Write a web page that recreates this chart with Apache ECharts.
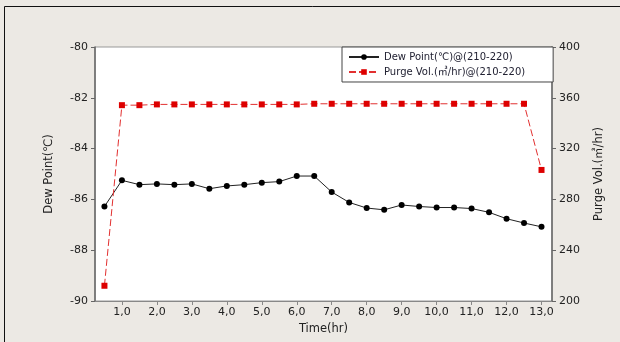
<!DOCTYPE html>
<html>
<head>
<meta charset="utf-8">
<script src="https://cdn.jsdelivr.net/npm/echarts@6/dist/echarts.min.js"></script>
<style>
  html, body { margin: 0; padding: 0; background: #ECE9E4; }
  #chart { width: 620px; height: 342px; }
</style>
</head>
<body>
<div id="chart"></div>
<script>
// Sampling times (hr)
const times = [0.5, 1.0, 1.5, 2.0, 2.5, 3.0, 3.5, 4.0, 4.5, 5.0, 5.5, 6.0, 6.5,
               7.0, 7.5, 8.0, 8.5, 9.0, 9.5, 10.0, 10.5, 11.0, 11.5, 12.0, 12.5, 13.0];
// Dew point (°C)
const dewPoint = [-86.28, -85.25, -85.42, -85.39, -85.42, -85.39, -85.58, -85.47, -85.42,
                  -85.34, -85.30, -85.08, -85.08, -85.71, -86.12, -86.34, -86.41, -86.22,
                  -86.28, -86.32, -86.32, -86.36, -86.51, -86.76, -86.93, -87.08];
// Purge volume (m3/hr)
const purgeVol = [212, 354.2, 354.2, 354.8, 354.8, 354.8, 354.8, 354.8, 354.8, 354.8,
                  354.8, 354.8, 355.3, 355.3, 355.3, 355.3, 355.3, 355.3, 355.3, 355.3,
                  355.3, 355.3, 355.3, 355.3, 355.3, 303.2];
// Tick labels
const timeTicks = [1, 2, 3, 4, 5, 6, 7, 8, 9, 10, 11, 12, 13];

const seriesNames = ['Dew Point(℃)@(210-220)', 'Purge Vol.(㎥/hr)@(210-220)'];

const font = 'DejaVu Sans, Liberation Sans, Noto Sans CJK KR, sans-serif';
const txt = { color: '#222', fontFamily: font, fontSize: 11 };

const chart = echarts.init(document.getElementById('chart'));
chart.setOption({
  backgroundColor: '#ECE9E4',
  animation: false,
  grid: {
    left: 95, right: 68, top: 47, bottom: 41,
    show: true, backgroundColor: '#ffffff', borderColor: '#999', borderWidth: 1
  },
  legend: {
    orient: 'vertical',
    left: 342, top: 47,
    backgroundColor: '#ffffff',
    borderColor: '#444', borderWidth: 1,
    padding: [5, 28, 5, 6],
    itemWidth: 30, itemHeight: 7, itemGap: 5,
    textStyle: { color: '#223', fontFamily: font, fontSize: 10 },
    data: seriesNames
  },
  xAxis: {
    type: 'value',
    min: 0.23, max: 13.3,
    name: 'Time(hr)', nameLocation: 'middle', nameGap: 22,
    nameTextStyle: Object.assign({}, txt, { fontSize: 11.5 }),
    axisLine: { show: true, lineStyle: { color: '#888' } },
    axisTick: { show: true, length: 4, customValues: timeTicks, lineStyle: { color: '#888' } },
    axisLabel: Object.assign({}, txt, {
      margin: 6,
      customValues: timeTicks,
      formatter: v => v.toFixed(1).replace('.', ',')
    }),
    splitLine: { show: false }
  },
  yAxis: [
    {
      type: 'value', min: -90, max: -80, interval: 2,
      name: 'Dew Point(℃)', nameLocation: 'middle', nameGap: 40, nameRotate: 90,
      nameTextStyle: Object.assign({}, txt, { fontSize: 11.5 }),
      axisLine: { show: true, lineStyle: { color: '#666', width: 1.5 } },
      axisTick: { show: true, length: 4, lineStyle: { color: '#666' } },
      axisLabel: Object.assign({}, txt, { margin: 7 }),
      splitLine: { show: false }
    },
    {
      type: 'value', min: 200, max: 400, interval: 40,
      name: 'Purge Vol.(㎥/hr)', nameLocation: 'middle', nameGap: 41, nameRotate: 90,
      nameTextStyle: Object.assign({}, txt, { fontSize: 11.5 }),
      axisLine: { show: true, lineStyle: { color: '#666', width: 1.5 } },
      axisTick: { show: true, length: 4, lineStyle: { color: '#666' } },
      axisLabel: Object.assign({}, txt, { margin: 7 }),
      splitLine: { show: false }
    }
  ],
  graphic: [
    { type: 'line', shape: { x1: 4.5, y1: 6.5, x2: 620, y2: 6.5 }, style: { stroke: '#111', lineWidth: 1 }, silent: true },
    { type: 'line', shape: { x1: 4.5, y1: 6.5, x2: 4.5, y2: 342 }, style: { stroke: '#111', lineWidth: 1 }, silent: true }
  ],
  series: [
    {
      name: seriesNames[0],
      type: 'line',
      yAxisIndex: 0,
      data: times.map((t, i) => [t, dewPoint[i]]),
      symbol: 'circle', symbolSize: 6,
      itemStyle: { color: '#000' },
      lineStyle: { color: '#222', width: 1 }
    },
    {
      name: seriesNames[1],
      type: 'line',
      yAxisIndex: 1,
      data: times.map((t, i) => [t, purgeVol[i]]),
      symbol: 'rect', symbolSize: 6,
      itemStyle: { color: '#dd0000' },
      lineStyle: { color: '#e23030', width: 1, type: [7, 3] }
    }
  ]
});
</script>
</body>
</html>
